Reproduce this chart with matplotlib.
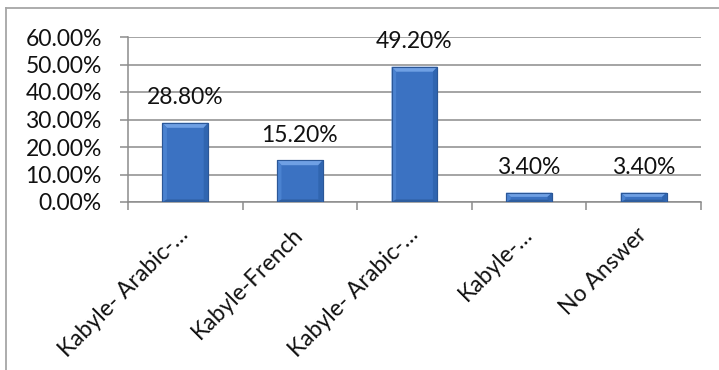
import matplotlib
matplotlib.use("Agg")
import matplotlib.pyplot as plt
from matplotlib.patches import Polygon
from matplotlib.lines import Line2D
from matplotlib.ticker import FixedLocator, FuncFormatter

categories = ["Kabyle- Arabic-…", "Kabyle-French", "Kabyle- Arabic-…", "Kabyle-…", "No Answer"]
values = [28.80, 15.20, 49.20, 3.40, 3.40]
y_ticks = [0, 10, 20, 30, 40, 50, 60]

W, H, DPI = 719, 370, 100
plt.rcParams["font.family"] = ["Lato", "DejaVu Sans"]

fig = plt.figure(figsize=(W / DPI, H / DPI), dpi=DPI)
fig.patch.set_facecolor("white")

# outer chart frame (left and top edges)
frame_c = "#A6A6A6"
fx, fy = 6 / W, 1 - 8 / H
fig.add_artist(Line2D([fx, fx], [0, fy], transform=fig.transFigure, color=frame_c, lw=1.3))
fig.add_artist(Line2D([fx, 1], [fy, fy], transform=fig.transFigure, color=frame_c, lw=1.3))

left, right, top, bottom = 128, 701, 37, 202
ax = fig.add_axes([left / W, 1 - bottom / H, (right - left) / W, (bottom - top) / H])
ax.set_xlim(-0.5, len(categories) - 0.5)
ax.set_ylim(0, 60)

grid_c = "#8C8C8C"
ax.set_yticks(y_ticks)
ax.yaxis.set_major_formatter(FuncFormatter(lambda v, p: f"{v:.2f}%"))
ax.yaxis.grid(True, color=grid_c, lw=1.1)
ax.set_axisbelow(True)
for s in ("top", "right"):
    ax.spines[s].set_visible(False)
for s in ("left", "bottom"):
    ax.spines[s].set_color(grid_c)
    ax.spines[s].set_linewidth(1.1)

fs = 16.5
ax.tick_params(axis="y", length=5.8, width=1.1, color=grid_c, pad=13, labelsize=fs,
               labelcolor="#111111")

# category boundaries carry the tick marks, centres carry the labels
n = len(categories)
ax.xaxis.set_major_locator(FixedLocator([i - 0.5 for i in range(n + 1)]))
ax.xaxis.set_minor_locator(FixedLocator(list(range(n))))
ax.tick_params(axis="x", which="major", length=5.8, width=1.1, color=grid_c, labelbottom=False)
ax.tick_params(axis="x", which="minor", length=0, pad=21, labelsize=fs, labelcolor="#111111")
ax.set_xticklabels(categories, minor=True, rotation=45, ha="right", va="center",
                   rotation_mode="anchor")

# bevelled bars
bar_w = 0.40
face = "#3B72C2"
edge = "#2B5797"
bars = ax.bar(range(n), values, width=bar_w, color=face, edgecolor=edge, linewidth=0.8, zorder=3)

px_x = (ax.get_xlim()[1] - ax.get_xlim()[0]) / (right - left)
px_y = (ax.get_ylim()[1] - ax.get_ylim()[0]) / (bottom - top)
for b in bars:
    x0, y0 = b.get_x(), b.get_y()
    x1, y1 = x0 + b.get_width(), y0 + b.get_height()
    bx = 4.5 * px_x
    bt = min(5 * px_y, b.get_height() * 0.45)
    bb = min(2.5 * px_y, b.get_height() * 0.25)
    ix0, ix1, iy0, iy1 = x0 + bx, x1 - bx, y0 + bb, y1 - bt
    pieces = [
        ([(x0, y1), (x1, y1), (ix1, iy1), (ix0, iy1)], "#6FA0E4"),
        ([(x0, y0), (x0, y1), (ix0, iy1), (ix0, iy0)], "#4A82D0"),
        ([(x1, y0), (x1, y1), (ix1, iy1), (ix1, iy0)], "#3065B0"),
        ([(x0, y0), (x1, y0), (ix1, iy0), (ix0, iy0)], "#2F5E9F"),
    ]
    for pts, c in pieces:
        ax.add_patch(Polygon(pts, closed=True, facecolor=c, edgecolor="none", zorder=3.5))
    ax.add_patch(Polygon([(x0, y0), (x1, y0), (x1, y1), (x0, y1)], closed=True,
                         facecolor="none", edgecolor=edge, lw=0.8, zorder=4))

for i, v in enumerate(values):
    ax.annotate(f"{v:.2f}%", (i, v), xytext=(0, 18), textcoords="offset points",
                ha="center", va="center", fontsize=fs, color="#111111", zorder=5)

fig.savefig("out.png", dpi=DPI, facecolor="white")
